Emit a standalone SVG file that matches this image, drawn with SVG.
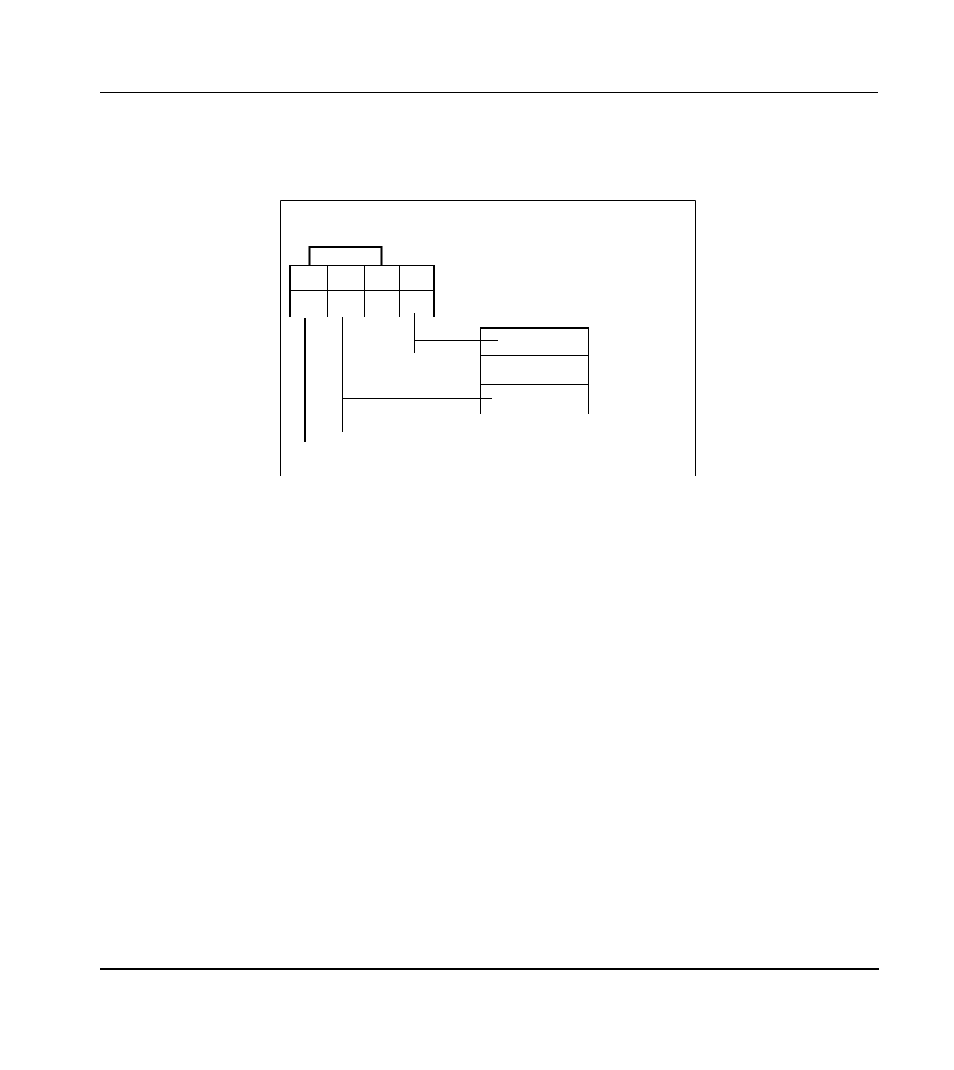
<svg xmlns="http://www.w3.org/2000/svg" width="954" height="1070" viewBox="0 0 954 1070">
<style>
.t{stroke:#000;stroke-width:1;fill:none}
.k{stroke:#000;stroke-width:2;fill:none}
</style>
<rect x="0" y="0" width="954" height="1070" fill="#fff"/>
<g id="page-rules">
<line class="t" x1="100" y1="92.5" x2="878" y2="92.5"/>
<line class="k" x1="100" y1="969" x2="879" y2="969"/>
</g>
<g id="frame">
<path class="t" d="M280.5,476 V200.5 H695.5 V476"/>
</g>
<g id="grid-node">
<path class="k" d="M309.5,265 V247 H381.5 V265"/>
<line class="t" x1="289" y1="265.5" x2="435" y2="265.5"/>
<line class="t" x1="289" y1="290.5" x2="435" y2="290.5"/>
<line class="k" x1="290" y1="265" x2="290" y2="317"/>
<line class="t" x1="327.5" y1="265" x2="327.5" y2="317"/>
<line class="t" x1="364.5" y1="265" x2="364.5" y2="317"/>
<line class="t" x1="399.5" y1="265" x2="399.5" y2="317"/>
<line class="k" x1="434" y1="265" x2="434" y2="317"/>
</g>
<g id="table-node">
<line class="k" x1="480" y1="328" x2="589" y2="328"/>
<line class="t" x1="480" y1="355.5" x2="589" y2="355.5"/>
<line class="t" x1="480" y1="384.5" x2="589" y2="384.5"/>
<line class="t" x1="480.5" y1="328" x2="480.5" y2="414"/>
<line class="t" x1="588.5" y1="328" x2="588.5" y2="414"/>
</g>
<g id="connectors">
<line class="k" x1="305" y1="318" x2="305" y2="442"/>
<line class="t" x1="342.5" y1="317" x2="342.5" y2="432"/>
<line class="t" x1="414.5" y1="313" x2="414.5" y2="353"/>
<line class="t" x1="414" y1="340.5" x2="498" y2="340.5"/>
<line class="t" x1="342" y1="398.5" x2="492" y2="398.5"/>
</g>
</svg>
